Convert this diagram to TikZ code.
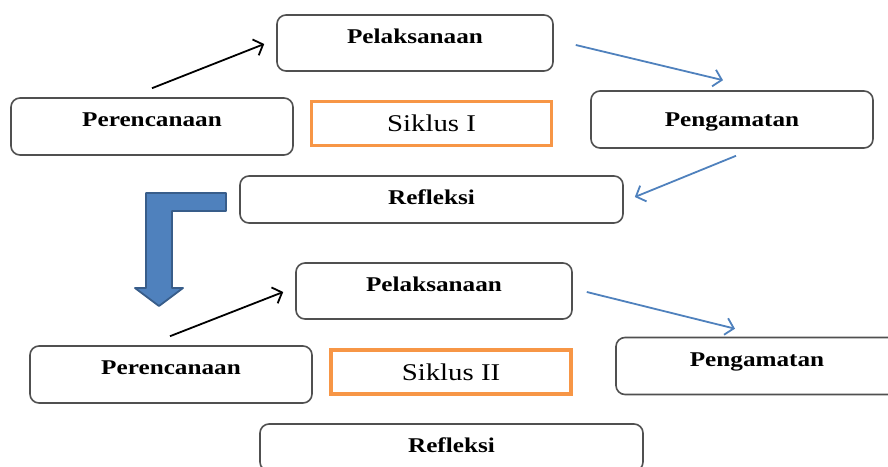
\documentclass[tikz,border=0pt]{standalone}
\usepackage{fontspec}
\setmainfont{Liberation Serif}
\newfontfamily\boxfont[FakeStretch=1.2]{Liberation Serif}
\usepackage{xcolor}
\usepackage{tikz}
\usetikzlibrary{positioning,arrows.meta}
\definecolor{boxgray}{RGB}{80,80,80}
\definecolor{siklusorange}{RGB}{247,150,70}
\definecolor{arrowblue}{RGB}{79,129,189}
\definecolor{arrowdark}{RGB}{56,93,138}

\begin{document}
\begin{tikzpicture}[x=1pt,y=1pt,every node/.style={on grid},
    >={Straight Barb[length=8pt,width=17pt]},
    stage/.style={draw=boxgray,line width=1.6pt,rounded corners=9pt,
      minimum width=282pt,minimum height=56pt,
      font=\boxfont\bfseries\fontsize{21}{25}\selectfont,
      text height=8pt,text depth=8pt},
    wide/.style={minimum width=383pt,minimum height=47pt,text height=12pt,text depth=3pt},
    siklus/.style={draw=siklusorange,line width=3.5pt,
      minimum width=240pt,minimum height=44pt,
      font=\boxfont\fontsize{24}{28}\selectfont},
    blk/.style={->,line width=1.8pt},
    blu/.style={->,draw=arrowblue,line width=1.8pt}]
    \useasboundingbox (0,0) rectangle (888,-466);
    % siklus I
    \node[stage,minimum width=276pt] (pel1) at (415,-43) {Pelaksanaan};
    \node[stage,minimum height=57pt] (peren1) at (152,-126.5) {Perencanaan};
    \node[siklus] (sik1) at (431.5,-123.5) {Siklus I};
    \node[stage,minimum height=57pt,text height=14.5pt,text depth=1.5pt] (peng1) at (732,-119.5) {Pengamatan};
    \node[stage,wide] (refl1) at (431.5,-199.5) {Refleksi};
    \draw[blk] ([yshift=9pt]peren1.north) -- ([xshift=-12pt,yshift=-1pt]pel1.west);
    \draw[blu] ([xshift=22pt,yshift=-2pt]pel1.east) -- ([xshift=-9pt,yshift=10pt]peng1.north);
    \draw[blu] ([xshift=4pt,yshift=-7pt]peng1.south) -- ([xshift=11pt,yshift=2.5pt]refl1.east);
    % ke siklus II
    \draw[fill=arrowblue,draw=arrowdark,line width=1.8pt,line join=round]
      (226,-193) -- (146,-193) -- (146,-288) -- (135,-288) -- (159,-306)
      -- (183,-288) -- (172,-288) -- (172,-211) -- (226,-211) -- cycle;
    % siklus II
    \node[stage,minimum width=276pt] (pel2) [below right=248pt and 19pt of pel1] {Pelaksanaan};
    \node[stage,minimum height=57pt] (peren2) [below right=248pt and 19pt of peren1] {Perencanaan};
    \node[siklus] (sik2) [below right=248.5pt and 19.5pt of sik1] {Siklus II};
    \node[stage,minimum height=57pt] (peng2) [below right=246.5pt and 25pt of peng1] {Pengamatan};
    \node[stage,wide] (refl2) [below right=248pt and 20pt of refl1] {Refleksi};
    \draw[blk] ([xshift=-1pt,yshift=9pt]peren2.north) -- ([xshift=-12pt,yshift=-1pt]pel2.west);
    \draw[blu] ([xshift=14pt,yshift=-1pt]pel2.east) -- ([xshift=-22pt,yshift=8pt]peng2.north);
\end{tikzpicture}
\end{document}
